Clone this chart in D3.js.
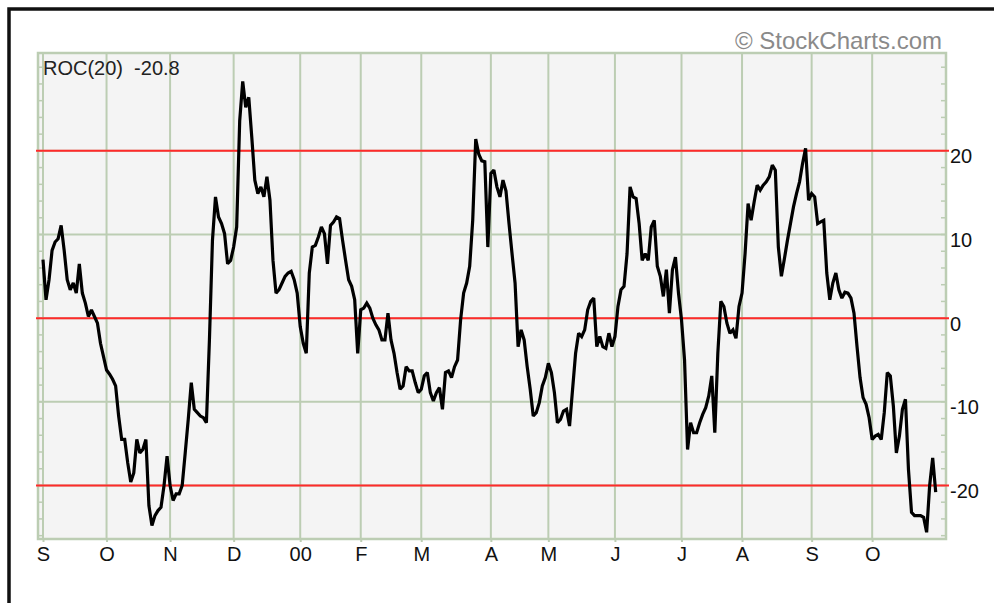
<!DOCTYPE html>
<html>
<head>
<meta charset="utf-8">
<script src="https://cdn.jsdelivr.net/npm/d3@7"></script>
<style>
  body { margin: 0; background: #fff; }
  svg { display: block; font-family: "Liberation Sans", Arial, sans-serif; }
</style>
</head>
<body>
<div id="chart"></div>
<script>
// month labels along the bottom and the trading-day index where each month starts
const monthLabels = ["S", "O", "N", "D", "00", "F", "M", "A", "M", "J", "J", "A", "S", "O"];
const monthStartIdx = [0, 21, 42, 63, 85, 105, 125, 148, 167, 189, 211, 231, 254, 274];

// right axis labels and the red signal levels
const yTickValues = [-20, -10, 0, 10, 20];
const signalLevels = [-20, 0, 20];

const indicatorName = "ROC(20)";

// 20 day rate of change, one value per trading day (Sep 1999 - Oct 2000)
const rocValues = [
  7.0, 2.2, 4.6, 8.1, 9.1, 9.5, 11.1, 8.1, 4.6, 3.4,
  4.2, 3.0, 6.5, 3.0, 1.8, 0.2, 1.0, 0.2, -0.6, -3.0,
  -4.6, -6.2, -6.7, -7.3, -8.1, -11.7, -14.5, -14.5, -17.3, -19.6,
  -18.5, -14.5, -16.1, -15.7, -14.5, -22.4, -24.8, -23.6, -23.0, -22.6,
  -20.0, -16.5, -20.0, -21.8, -21.0, -21.0, -20.0, -16.1, -12.1, -7.7,
  -10.9, -11.3, -11.7, -11.9, -12.5, -2.6, 9.3, 14.5, 12.1, 11.3,
  10.1, 6.5, 6.9, 8.5, 10.9, 23.6, 28.3, 25.2, 26.4, 21.6,
  16.5, 14.9, 15.7, 14.5, 16.9, 14.1, 6.9, 3.0, 3.4, 4.2,
  5.0, 5.4, 5.6, 4.6, 3.0, -1.0, -3.0, -4.2, 5.4, 8.5,
  8.7, 9.7, 10.9, 10.1, 6.5, 11.1, 11.5, 12.1, 11.9, 9.3,
  6.9, 4.6, 3.8, 2.2, -4.2, 1.0, 1.2, 1.8, 1.2, 0.0,
  -0.8, -1.4, -2.6, -2.6, 0.6, -2.6, -4.2, -6.5, -8.5, -8.1,
  -5.8, -6.3, -6.3, -7.7, -8.9, -8.5, -6.9, -6.5, -8.9, -9.9,
  -8.9, -8.3, -10.9, -6.5, -6.3, -7.1, -5.8, -5.0, -0.2, 3.0,
  4.2, 6.2, 11.7, 21.4, 19.6, 18.8, 18.7, 8.5, 17.3, 17.7,
  15.7, 14.5, 16.5, 15.2, 11.3, 7.7, 4.2, -3.4, -1.4, -2.6,
  -5.8, -8.5, -11.7, -11.3, -10.1, -8.1, -7.1, -5.4, -6.5, -8.9,
  -12.5, -12.1, -11.1, -10.9, -12.9, -8.5, -4.2, -1.8, -2.2, -1.4,
  1.0, 2.0, 2.4, -3.4, -2.2, -3.4, -3.6, -1.8, -3.4, -2.2,
  1.4, 3.4, 3.8, 7.7, 15.7, 14.5, 14.3, 11.3, 6.9, 7.7,
  6.9, 10.9, 11.7, 6.2, 5.0, 2.6, 5.8, 0.6, 5.8, 7.3,
  3.0, -0.2, -5.0, -15.7, -12.5, -13.7, -13.7, -12.5, -11.5, -10.7,
  -9.3, -6.9, -13.7, -4.2, 2.0, 1.4, -0.6, -1.8, -1.4, -2.4,
  1.4, 3.0, 7.7, 13.7, 11.7, 13.9, 15.9, 15.3, 15.9, 16.3,
  16.9, 18.3, 17.7, 8.5, 5.0, 7.1, 9.3, 11.3, 13.3, 14.9,
  16.3, 18.5, 20.3, 14.1, 14.9, 14.5, 11.3, 11.5, 11.7, 5.4,
  2.2, 4.2, 5.4, 3.4, 2.4, 3.1, 3.0, 2.4, 0.6, -3.4,
  -7.1, -9.5, -10.3, -11.9, -14.5, -14.1, -13.9, -14.5, -11.3, -6.5,
  -6.9, -10.5, -16.1, -14.1, -10.9, -9.7, -18.1, -23.2, -23.6, -23.6,
  -23.6, -23.8, -25.6, -20.0, -16.7, -20.8
];

function RocChart() {

    var width = 994;
    var height = 603;

    var plotLeft = 38;
    var plotRight = 946;
    var plotTop = 53;
    var plotBottom = 539;

    var gridColor = "#bccdb3";
    var plotBg = "#f4f4f4";

    function chart(container) {
        const svg = d3.create("svg")
            .attr("width", width)
            .attr("height", height);

        // outer frame, only top and left edges are in view
        svg.append("path")
            .attr("d", `M9,${height} V9 H${width}`)
            .attr("fill", "none")
            .attr("stroke", "#111")
            .attr("stroke-width", 3.5);

        // x is the trading-day index
        const x = d3.scaleLinear()
            .domain([-1.65, 298.4])
            .range([plotLeft, plotRight]);

        const y = d3.scaleLinear()
            .domain([-26.4, 31.7])
            .range([plotBottom, plotTop]);

        // plot background
        svg.append("rect")
            .attr("x", plotLeft)
            .attr("y", plotTop)
            .attr("width", plotRight - plotLeft)
            .attr("height", plotBottom - plotTop)
            .attr("fill", plotBg);

        // horizontal grid
        svg.append("g")
            .selectAll("line")
            .data(yTickValues)
            .join("line")
                .attr("x1", plotLeft)
                .attr("x2", plotRight)
                .attr("y1", d => y(d))
                .attr("y2", d => y(d))
                .attr("stroke", gridColor)
                .attr("stroke-width", 2);

        // vertical grid at each month start
        svg.append("g")
            .selectAll("line")
            .data(monthStartIdx)
            .join("line")
                .attr("x1", d => x(d))
                .attr("x2", d => x(d))
                .attr("y1", plotTop)
                .attr("y2", plotBottom)
                .attr("stroke", gridColor)
                .attr("stroke-width", 2);

        // small inside ticks on both sides every 2 units
        const minor = d3.range(-26, 32, 2);
        svg.append("g")
            .selectAll("line")
            .data(minor)
            .join("line")
                .attr("x1", plotLeft)
                .attr("x2", plotLeft + 5)
                .attr("y1", d => y(d))
                .attr("y2", d => y(d))
                .attr("stroke", gridColor)
                .attr("stroke-width", 1.5);
        svg.append("g")
            .selectAll("line")
            .data(minor)
            .join("line")
                .attr("x1", plotRight - 5)
                .attr("x2", plotRight)
                .attr("y1", d => y(d))
                .attr("y2", d => y(d))
                .attr("stroke", gridColor)
                .attr("stroke-width", 1.5);

        // plot border
        svg.append("rect")
            .attr("x", plotLeft)
            .attr("y", plotTop)
            .attr("width", plotRight - plotLeft)
            .attr("height", plotBottom - plotTop)
            .attr("fill", "none")
            .attr("stroke", gridColor)
            .attr("stroke-width", 2.5);

        // red signal lines
        svg.append("g")
            .selectAll("line")
            .data(signalLevels)
            .join("line")
                .attr("x1", plotLeft - 2)
                .attr("x2", plotRight + 3)
                .attr("y1", d => y(d))
                .attr("y2", d => y(d))
                .attr("stroke", "#ff2a2a")
                .attr("stroke-width", 2);

        // the ROC line
        const line = d3.line()
            .x((d, i) => x(i))
            .y(d => y(d));

        svg.append("path")
            .datum(rocValues)
            .attr("d", line)
            .attr("fill", "none")
            .attr("stroke", "#000")
            .attr("stroke-width", 3.2)
            .attr("stroke-linejoin", "miter")
            .attr("stroke-miterlimit", 2);

        // x axis with month letters
        svg.append("g")
            .attr("transform", `translate(0,${plotBottom})`)
            .call(d3.axisBottom(x)
                .tickValues(monthStartIdx)
                .tickFormat((d, i) => monthLabels[i])
                .tickSize(3)
                .tickPadding(5))
            .call(g => g.select(".domain").remove())
            .call(g => g.selectAll(".tick line").attr("stroke", gridColor).attr("stroke-width", 2))
            .call(g => g.selectAll(".tick text")
                .attr("font-size", 20)
                .attr("font-family", "Liberation Sans, Arial, sans-serif")
                .attr("fill", "#111"));

        // y axis labels on the right, plain hyphen for negatives
        svg.append("g")
            .attr("transform", `translate(${plotRight},0)`)
            .call(d3.axisRight(y)
                .tickValues(yTickValues)
                .tickFormat(d => String(d))
                .tickSize(0)
                .tickPadding(4))
            .call(g => g.select(".domain").remove())
            .call(g => g.selectAll(".tick text")
                .attr("font-size", 20)
                .attr("font-family", "Liberation Sans, Arial, sans-serif")
                .attr("dy", "0.6em")
                .attr("fill", "#111"));

        // indicator name and last value
        const last = rocValues[rocValues.length - 1];
        svg.append("text")
            .attr("x", 43)
            .attr("y", 75)
            .attr("font-size", 20)
            .attr("fill", "#222")
            .style("white-space", "pre")
            .text(indicatorName + "  " + last.toFixed(1));

        // copyright
        svg.append("text")
            .attr("x", 942)
            .attr("y", 49)
            .attr("text-anchor", "end")
            .attr("font-size", 24)
            .attr("fill", "#8a8a8a")
            .text("\u00a9 StockCharts.com");

        container.appendChild(svg.node());
    }

    return chart;
}

RocChart()(document.getElementById("chart"));
</script>
</body>
</html>
